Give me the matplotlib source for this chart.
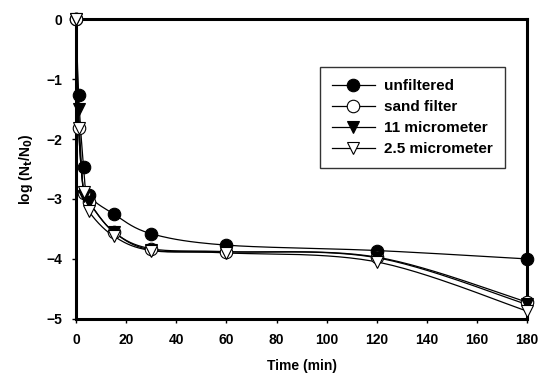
import numpy as np
import matplotlib
matplotlib.use("Agg")
import matplotlib.pyplot as plt
from matplotlib.lines import Line2D

plt.rcParams["font.family"] = ["Liberation Sans", "DejaVu Sans"]
plt.rcParams["font.weight"] = "bold"

time_min = [0, 1, 3, 5, 15, 30, 60, 120, 180]
unfiltered = [0, -1.27, -2.47, -2.93, -3.25, -3.58, -3.77, -3.86, -4.0]
sand_filter = [0, -1.82, -2.90, -3.05, -3.55, -3.83, -3.88, -3.97, -4.72]
micro_11 = [0, -1.50, -2.95, -3.05, -3.55, -3.85, -3.88, -3.98, -4.76]
micro_2_5 = [0, -1.82, -2.88, -3.20, -3.62, -3.86, -3.90, -4.05, -4.87]


def smooth(x, y, n=30):
    """Catmull-Rom style smoothing between the measured points."""
    x = np.asarray(x, float)
    y = np.asarray(y, float)
    px = np.concatenate([[x[0]], x, [x[-1]]])
    py = np.concatenate([[y[0]], y, [y[-1]]])
    xs, ys = [], []
    for i in range(1, len(px) - 2):
        p0, p1, p2, p3 = (np.array([px[j], py[j]]) for j in range(i - 1, i + 3))
        c1 = p1 + (p2 - p0) / 6.0
        c2 = p2 - (p3 - p1) / 6.0
        t = np.linspace(0, 1, n)[:, None]
        b = ((1 - t) ** 3) * p1 + 3 * ((1 - t) ** 2) * t * c1 \
            + 3 * (1 - t) * t ** 2 * c2 + t ** 3 * p2
        xs.append(b[:, 0])
        ys.append(b[:, 1])
    return np.concatenate(xs), np.concatenate(ys)


fig = plt.figure(figsize=(5.4, 3.76), dpi=100)
ax = fig.add_axes([0.141, 0.152, 0.835, 0.797])

series = [
    (unfiltered, "unfiltered", "o", "black"),
    (sand_filter, "sand filter", "o", "white"),
    (micro_11, "11 micrometer", "v", "black"),
    (micro_2_5, "2.5 micrometer", "v", "white"),
]

handles = []
for vals, name, mk, fc in series:
    sx, sy = smooth(time_min, vals)
    ax.plot(sx, sy, color="black", lw=0.9, zorder=2)
    ax.plot(time_min, vals, linestyle="none", marker=mk, markersize=9,
            markerfacecolor=fc, markeredgecolor="black", markeredgewidth=0.8,
            zorder=3, clip_on=False)
    handles.append(Line2D([], [], color="black", lw=0.9, marker=mk,
                          markersize=9, markerfacecolor=fc,
                          markeredgecolor="black", markeredgewidth=0.8,
                          label=name))

ax.set_xlim(0, 180)
ax.set_ylim(-5, 0)
ax.set_xticks(np.arange(0, 181, 20))
ax.set_yticks(np.arange(-5, 1, 1))
for s in ax.spines.values():
    s.set_linewidth(2.2)
ax.tick_params(direction="out", length=3, width=1, labelsize=10, pad=7)
for lab in ax.get_xticklabels() + ax.get_yticklabels():
    lab.set_fontweight("bold")

ax.set_xlabel("Time (min)", fontsize=10, fontweight="bold", labelpad=9)
ax.set_ylabel(r"log (N$_\mathbf{t}$/N$_\mathbf{0}$)", fontsize=10,
              fontweight="bold", labelpad=8)

leg = ax.legend(handles=handles, loc="upper right",
                bbox_to_anchor=(0.968, 0.865), frameon=True, fancybox=False,
                edgecolor="black", handlelength=2.8,
                borderpad=0.8, labelspacing=0.45, handletextpad=0.6,
                prop={"weight": "bold", "size": 11})
leg.get_frame().set_linewidth(1.0)

fig.savefig("out.png", dpi=100)
